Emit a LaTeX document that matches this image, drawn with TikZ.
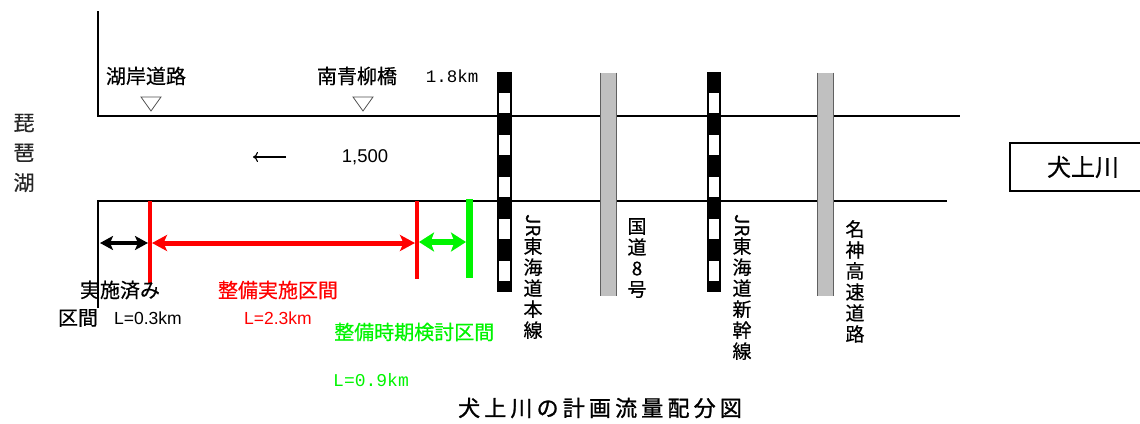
\documentclass[tikz,border=0pt]{standalone}
\usepackage{fontspec}
\usepackage{graphicx}
\usetikzlibrary{arrows.meta}
\newfontfamily\jp{Noto Sans CJK JP}[FakeBold=0.5]
\newfontfamily\jpsp{Noto Sans CJK JP}[LetterSpace=19,FakeBold=1.2]
\newfontfamily\lat{Liberation Sans}
\newfontfamily\mono{Liberation Mono}
\definecolor{myred}{HTML}{FF0000}
\definecolor{mygreen}{HTML}{00F400}
\definecolor{bridgegray}{HTML}{C0C0C0}
\definecolor{edgegray}{HTML}{606060}
\definecolor{trigray}{HTML}{505050}
\tikzset{
  tipk/.tip={Stealth[length=13pt,width=14pt,inset=3pt]},
  tipr/.tip={Stealth[length=15pt,width=16pt,inset=3.5pt]},
  tipg/.tip={Stealth[length=15pt,width=19pt,inset=3.5pt]}
}
\begin{document}
\begin{tikzpicture}[x=1pt,y=-1pt,
  river/.style={line width=1.8pt},
  jplab/.style={font=\jp\fontsize{20}{22}\selectfont, inner sep=0pt},
  latlab/.style={font=\lat\fontsize{17.5}{20}\selectfont, inner sep=0pt},
  monolab/.style={font=\mono\fontsize{17.5}{20}\selectfont, inner sep=0pt},
  vlab/.style={font=\jp\fontsize{19}{21}\selectfont, inner sep=0pt, align=center, anchor=north},
  tri/.style={draw=trigray, line width=0.8pt},
  grbridge/.style={fill=bridgegray},
  gredge/.style={draw=edgegray, line width=1.2pt}
]
\useasboundingbox (0,0) rectangle (1140,423);

% river banks
\coordinate (tl0) at (98,11);
\coordinate (tl) at (98,116);
\coordinate (tr) at (960,116);
\coordinate (bl1) at (98,308);
\coordinate (bl) at (98,201);
\coordinate (br) at (947,201);
\draw[river] (tl0) -- (tl) -- (tr);
\draw[river] (bl1) -- (bl) -- (br);

% JR Tokaido main line bridge
\fill[black] (497,72) rectangle (512,292);
\foreach \y in {93.3,135,176.7,219.3,260.7}
  \fill[white] (499,\y) rectangle (510,\y+20);
% Route 8 bridge
\fill[grbridge] (600,72.7) rectangle (616.7,296);
\draw[gredge] (600.6,72.7) -- (600.6,296) (616.1,72.7) -- (616.1,296);
% Shinkansen bridge
\fill[black] (706.7,72) rectangle (721.2,292);
\foreach \y in {93.3,135,176.7,219.3,260.7}
  \fill[white] (708.5,\y) rectangle (719.4,\y+20);
% Meishin bridge
\fill[grbridge] (816.7,72.7) rectangle (834,296);
\draw[gredge] (817.3,72.7) -- (817.3,296) (833.4,72.7) -- (833.4,296);

% triangles
\draw[tri] (141,97) -- (161,97) -- (151,111) -- cycle;
\draw[tri] (353,97) -- (373,97) -- (363,111) -- cycle;

% top labels
\node[jplab] (koganlab) at (146,76) {湖岸道路};
\node[jplab] (minamilab) at (357,76) {南青柳橋};
\node[monolab] (distlab) at (452,76) {1.8km};

% lake
\node[font=\jp\fontsize{21}{30}\selectfont, inner sep=0pt, align=center, text=black!85] (lake) at (24,153) {琵\\琶\\湖};

% flow
\coordinate (fa) at (286,157);
\coordinate (fb) at (253,157);
\draw[line width=1.1pt, -{To[length=5pt,width=10pt]}] (fa) -- (fb);
\node[font=\lat\fontsize{18.5}{20}\selectfont, inner sep=0pt] (flow) at (365,157) {1,500};

% section markers
\coordinate (r1t) at (150,201);
\coordinate (r1b) at (150,283);
\coordinate (r2t) at (417,201);
\coordinate (r2b) at (417,279);
\coordinate (g1t) at (469,199);
\coordinate (g1b) at (469,278);
\draw[myred, line width=4pt] (r1t) -- (r1b);
\draw[myred, line width=4pt] (r2t) -- (r2b);
\draw[mygreen, line width=7pt] (g1t) -- (g1b);

\coordinate (ka) at (100,243);
\coordinate (kb) at (148,243);
\coordinate (ra) at (152,243);
\coordinate (rb) at (415,243);
\coordinate (ga) at (419,242);
\coordinate (gb) at (466,242);
\draw[line width=4pt, tipk-tipk] (ka) -- (kb);
\draw[myred, line width=5pt, tipr-tipr] (ra) -- (rb);
\draw[mygreen, line width=6pt, tipg-tipg] (ga) -- (gb);

% section labels
\node[jplab] (donelab) at (120,290) {実施済み};
\node[jplab] (donelab2) at (78,318) {区間};
\node[latlab] (donelen) at (148,318) {L=0.3km};
\node[jplab, text=myred] (redlab) at (278,290) {整備実施区間};
\node[latlab, text=myred] (redlen) at (278,318) {L=2.3km};
\node[jplab, text=mygreen, anchor=west] (grnlab) at (334,332) {整備時期検討区間};
\node[monolab, text=mygreen, anchor=west, font=\mono\fontsize{18}{20}\selectfont] (grnlen) at (333,380) {L=0.9km};

% vertical labels
\node[vlab] (jr1lab) at (533,214) {\rotatebox{-90}{JR}\\東\\海\\道\\本\\線};
\node[vlab] (r8lab) at (637,218) {国\\道\\8\\号};
\node[vlab] (jr2lab) at (742,214) {\rotatebox{-90}{JR}\\東\\海\\道\\新\\幹\\線};
\node[vlab] (mslab) at (855,220) {名\\神\\高\\速\\道\\路};

% river name box
\draw[line width=1.3pt] (1145,143) -- (1010,143) -- (1010,191) -- (1145,191);
\node[font=\jp\fontsize{24}{26}\selectfont, inner sep=0pt] (rivername) at (1083,167) {犬上川};

% title
\node[font=\jpsp\fontsize{22}{24}\selectfont, inner sep=0pt] (title) at (600,408) {犬上川の計画流量配分図};
\end{tikzpicture}
\end{document}
